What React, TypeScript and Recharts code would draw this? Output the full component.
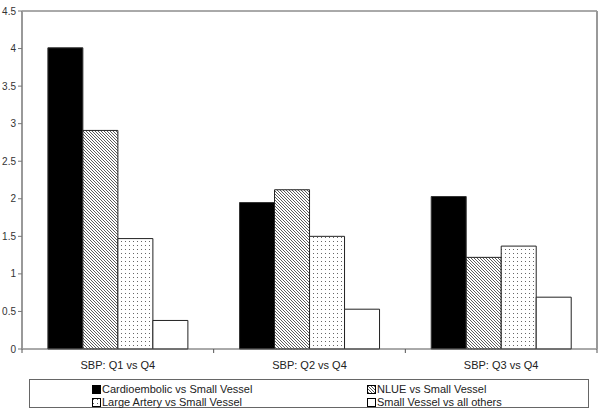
import React from "react";
import {
  BarChart,
  Bar,
  XAxis,
  YAxis,
  Legend,
  ReferenceLine,
} from "recharts";

// comparisons on the x axis
const categories = ["SBP: Q1 vs Q4", "SBP: Q2 vs Q4", "SBP: Q3 vs Q4"];

// values
const cardioembolic = [4.01, 1.95, 2.03];
const nlue = [2.91, 2.12, 1.22];
const largeArtery = [1.47, 1.5, 1.37];
const smallVessel = [0.38, 0.53, 0.69];

const yTicks = [0, 0.5, 1, 1.5, 2, 2.5, 3, 3.5, 4, 4.5];

const series = [
  { key: "cardioembolic", name: "Cardioembolic vs Small Vessel", fill: "#000000" },
  { key: "nlue", name: "NLUE vs Small Vessel", fill: "url(#hatch)" },
  { key: "largeArtery", name: "Large Artery vs Small Vessel", fill: "url(#dots)" },
  { key: "smallVessel", name: "Small Vessel vs all others", fill: "#ffffff" },
];

const data = categories.map((name, i) => ({
  name,
  cardioembolic: cardioembolic[i],
  nlue: nlue[i],
  largeArtery: largeArtery[i],
  smallVessel: smallVessel[i],
}));

const FONT = "'Liberation Sans', Arial, sans-serif";

const CategoryTick = (props: any) => {
  const { x, y, payload, index } = props;
  const half = payload && payload.offset ? payload.offset : 0;
  return (
    <g>
      <line x1={x - half} y1={y} x2={x - half} y2={y + 4} stroke="#555" />
      {index === categories.length - 1 && (
        <line x1={x + half} y1={y} x2={x + half} y2={y + 4} stroke="#555" />
      )}
      <text
        x={x}
        y={y + 20}
        textAnchor="middle"
        fontSize={11}
        fontFamily={FONT}
        fill="#222"
      >
        {payload.value}
      </text>
    </g>
  );
};

const LegendBox = () => {
  return (
    <div
      style={{
        boxSizing: "border-box",
        width: 560,
        height: 29,
        marginLeft: 29,
        border: "1px solid #666",
        fontFamily: FONT,
        fontSize: 11,
        color: "#222",
        display: "grid",
        gridTemplateColumns: "275px 275px",
        gridTemplateRows: "14px 13px",
        paddingTop: 2,
        paddingLeft: 62,
        lineHeight: "13px",
      }}
    >
      {series.map((s) => (
        <div key={s.key} style={{ display: "flex", alignItems: "center", whiteSpace: "nowrap" }}>
          <svg width={9} height={9} style={{ marginRight: 1 }}>
            <rect x={0.5} y={0.5} width={8} height={8} fill={s.fill} stroke="#000" />
          </svg>
          {s.name}
        </div>
      ))}
    </div>
  );
};

export default function App() {
  return (
    <div style={{ position: "absolute", left: 0, top: 0 }}>
      <BarChart
        width={600}
        height={413}
        data={data}
        margin={{ top: 11, right: 2, left: 0, bottom: 5 }}
        barCategoryGap="13.5%"
        barGap={0}
      >
        <defs>
          <pattern id="hatch" width={3} height={3} patternUnits="userSpaceOnUse">
            <rect width={3} height={3} fill="#ffffff" />
            <path d="M0,0 L3,3 M-1,2 L1,4 M2,-1 L4,1" stroke="#333" strokeWidth={0.8} />
          </pattern>
          <pattern id="dots" width={4} height={4} patternUnits="userSpaceOnUse">
            <rect width={4} height={4} fill="#ffffff" />
            <rect x={1} y={1} width={1} height={1} fill="#666" />
          </pattern>
        </defs>
        <XAxis
          dataKey="name"
          height={30}
          tickLine={false}
          tickSize={0}
          tickMargin={0}
          axisLine={{ stroke: "#555" }}
          tick={<CategoryTick />}
          interval={0}
        />
        <YAxis
          width={22}
          domain={[0, 4.5]}
          ticks={yTicks}
          interval={0}
          tickSize={4}
          tickMargin={2}
          axisLine={{ stroke: "#999", strokeWidth: 2 }}
          tickLine={{ stroke: "#777" }}
          tick={{ fontSize: 10, fontFamily: FONT, fill: "#333" }}
        />
        <YAxis
          yAxisId="right"
          orientation="right"
          width={1}
          tick={false}
          tickLine={false}
          axisLine={{ stroke: "#999", strokeWidth: 2 }}
        />
        <ReferenceLine y={4.5} stroke="#555" strokeWidth={1} ifOverflow="extendDomain" />
        <Legend verticalAlign="bottom" height={29} content={<LegendBox />} />
        {series.map((s) => (
          <Bar
            key={s.key}
            dataKey={s.key}
            name={s.name}
            fill={s.fill}
            stroke={s.key === "cardioembolic" ? "#333" : "#222"}
            strokeWidth={1}
            isAnimationActive={false}
          />
        ))}
      </BarChart>
    </div>
  );
}
